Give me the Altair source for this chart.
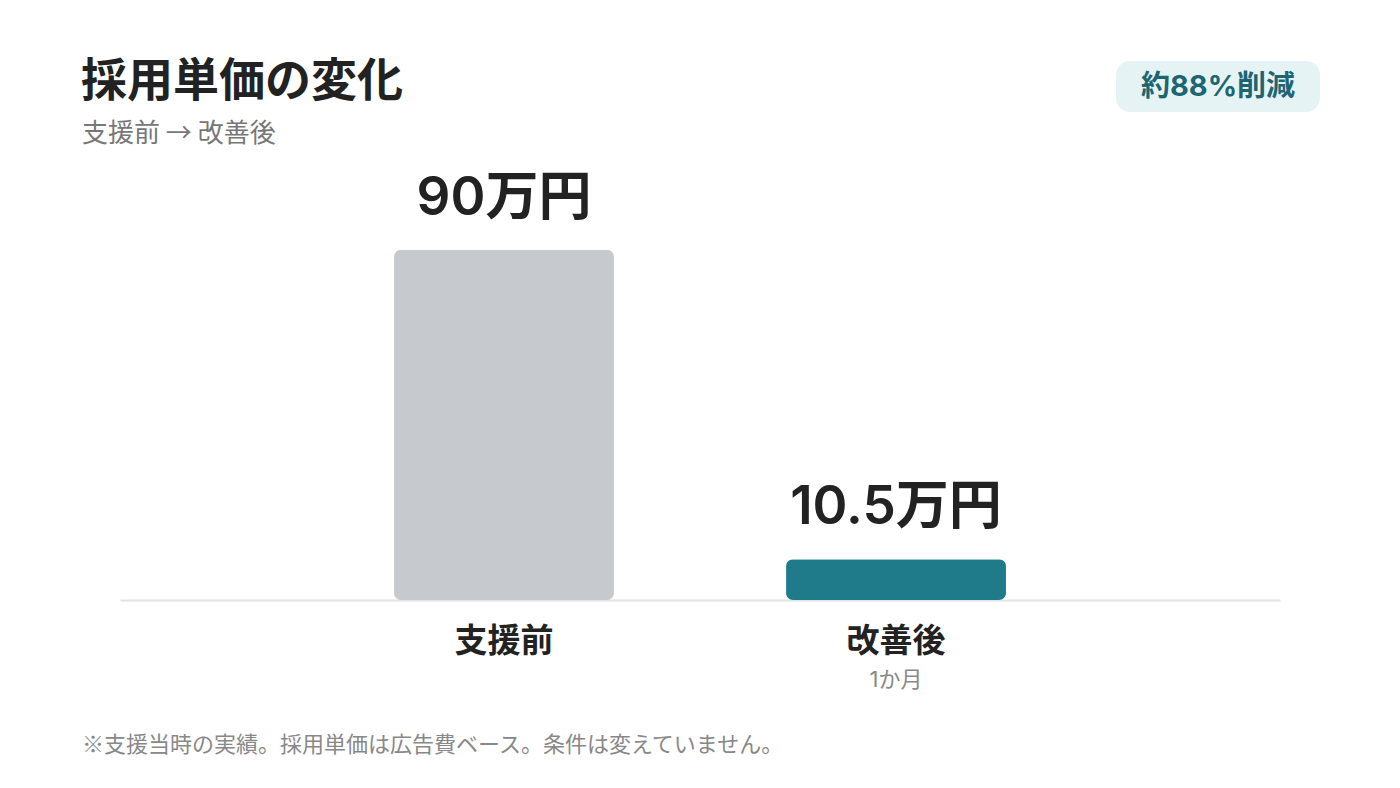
import altair as alt
import pandas as pd

categories = ["支援前", "改善後"]
values = [90, 10.5]
value_labels = ["90万円", "10.5万円"]
sub_labels = ["", "1か月"]
bar_colors = ["#c6c9cd", "#1f7a8a"]

title_text = "採用単価の変化"
subtitle_text = "支援前 → 改善後"
badge_text = "約88%削減"
footnote_text = "※支援当時の実績。採用単価は広告費ベース。条件は変えていません。"

FONT = "Inter, Noto Sans CJK JP"
CJK = "Noto Sans CJK JP"
W, H = 1160, 428

df = pd.DataFrame({"cat": categories, "value": values, "label": value_labels, "sub": sub_labels})

xenc = alt.X(
    "cat:N",
    sort=categories,
    scale=alt.Scale(paddingInner=0.439, paddingOuter=0.699),
    axis=alt.Axis(
        title=None, ticks=False, grid=False,
        domainColor="#e2e2e2", domainWidth=2,
        labelFont=FONT, labelFontSize=33, labelFontWeight="bold", labelColor="#222222",
        labelBaseline="middle", labelPadding=41, labelAngle=0,
    ),
)
yenc = alt.Y("value:Q", scale=alt.Scale(domain=[0, 110]), axis=None)

base = alt.Chart(df)

bars = base.mark_bar(cornerRadius=7).encode(
    x=xenc,
    y=yenc,
    color=alt.Color("cat:N", sort=categories, scale=alt.Scale(domain=categories, range=bar_colors), legend=None),
)

vlabels = base.mark_text(font=FONT, fontSize=53, fontWeight=600, color="#222222", baseline="bottom", dy=-24).encode(
    x=alt.X("cat:N", sort=categories),
    y=alt.Y("value:Q"),
    text="label:N",
)

sublabels = base.mark_text(font=FONT, fontSize=22, color="#888888", baseline="middle").encode(
    x=alt.X("cat:N", sort=categories),
    y=alt.value(H + 80),
    text="sub:N",
)

def single(txt):
    return alt.Chart(pd.DataFrame({"t": [txt]}))

title = single(title_text).mark_text(font=FONT, fontSize=46, fontWeight="bold", color="#222222",
                                     align="left", baseline="middle").encode(
    text="t:N", x=alt.value(-39), y=alt.value(-90))
subtitle = single(subtitle_text).mark_text(font=CJK, fontSize=26, color="#777777",
                                           align="left", baseline="middle").encode(
    text="t:N", x=alt.value(-38), y=alt.value(-38))
badge_bg = single(badge_text).mark_rect(cornerRadius=14, color="#e6f3f4").encode(
    x=alt.value(996), x2=alt.value(1200), y=alt.value(-111), y2=alt.value(-60))
badge = single(badge_text).mark_text(font=FONT, fontSize=29, fontWeight="bold", color="#1d6572",
                                     align="center", baseline="middle").encode(
    text="t:N", x=alt.value(1098), y=alt.value(-85))
footnote = single(footnote_text).mark_text(font=CJK, fontSize=22, color="#888888",
                                           align="left", baseline="middle").encode(
    text="t:N", x=alt.value(-38), y=alt.value(573))

chart = alt.layer(bars, vlabels, sublabels, title, subtitle, badge_bg, badge, footnote).properties(
    width=W, height=H,
    autosize=alt.AutoSizeParams(type="none"),
    padding={"left": 112, "top": 164, "right": 112, "bottom": 170},
    background="white",
).configure_view(stroke=None)

chart.save("out.html", embed_options={"renderer": "svg", "actions": False})
